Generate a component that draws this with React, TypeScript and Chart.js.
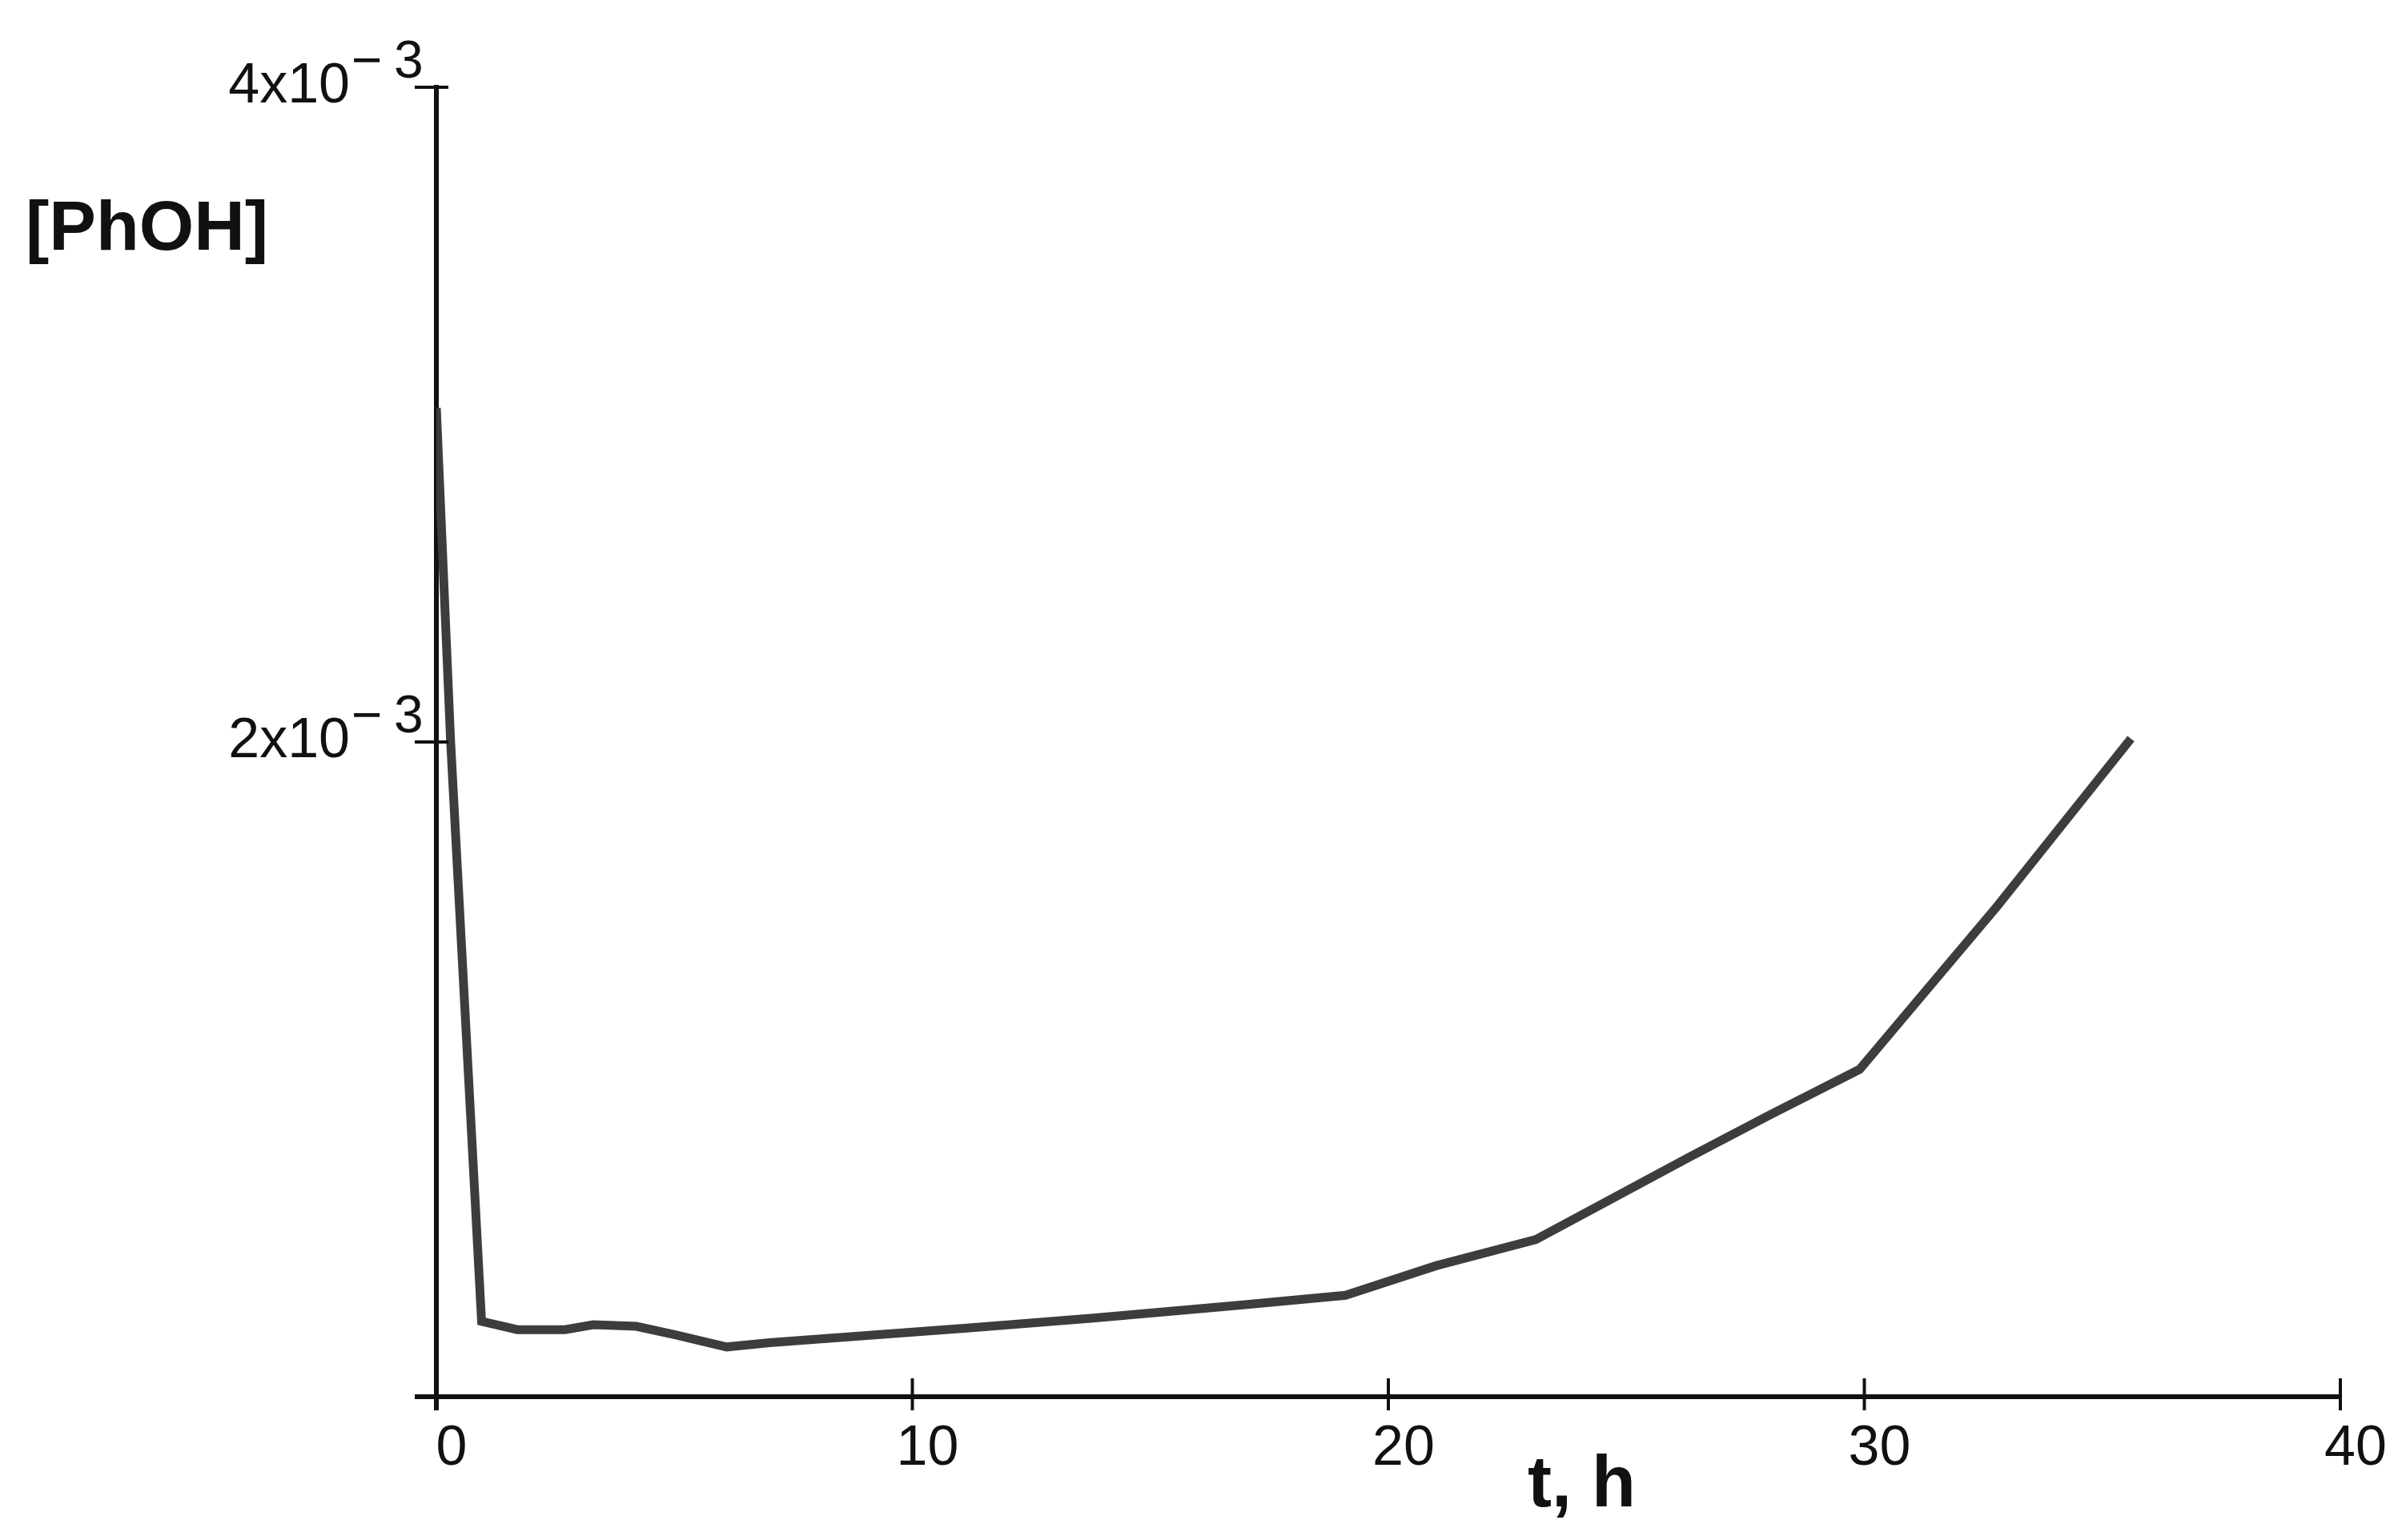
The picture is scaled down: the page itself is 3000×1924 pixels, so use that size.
import React, { useEffect, useRef } from "react";
import { Chart, registerables } from "chart.js";

Chart.register(...registerables);

// ---- data ----
const timeHours = [0, 0.3, 0.95, 1.7, 2.7, 3.3, 4.2, 5.0, 6.1, 7.0, 11.2, 13.8, 16.9, 19.1, 21.0, 23.1, 26.3, 28.0, 29.9, 32.8, 35.6];
const phohConc = [
  3.02e-3, 2.0e-3, 0.23e-3, 0.205e-3, 0.205e-3, 0.22e-3, 0.215e-3, 0.19e-3, 0.152e-3, 0.165e-3,
  0.21e-3, 0.24e-3, 0.28e-3, 0.31e-3, 0.4e-3, 0.48e-3, 0.73e-3, 0.86e-3, 1.0e-3, 1.5e-3, 2.01e-3,
];
const xTicks = [0, 10, 20, 30, 40];
const yTicks = [0, 0.002, 0.004];
const yTickMantissa = ["", "2x10", "4x10"];
const yTickExponent = ["\u2212", "3"];
const xAxisTitle = "t, h";
const yAxisTitle = "[PhOH]";

const FONT = '"Liberation Sans", Arial, sans-serif';
const INK = "#111111";

const decorPlugin = {
  id: "decor",
  afterDraw(chart: any) {
    const ctx = chart.ctx as CanvasRenderingContext2D;
    const xs = chart.scales.x;
    const ys = chart.scales.y;
    const x0 = xs.getPixelForValue(0);
    const y0 = ys.getPixelForValue(0);
    ctx.save();
    ctx.strokeStyle = INK;
    ctx.lineCap = "butt";
    xTicks.forEach((v) => {
      const px = xs.getPixelForValue(v);
      ctx.lineWidth = v === 0 ? 6 : 4;
      ctx.beginPath();
      ctx.moveTo(px, y0 - 23);
      ctx.lineTo(px, y0 + 17);
      ctx.stroke();
    });
    yTicks.forEach((v) => {
      const py = ys.getPixelForValue(v);
      ctx.lineWidth = v === 0 ? 6 : 4;
      ctx.beginPath();
      ctx.moveTo(x0 - 27, py);
      ctx.lineTo(x0 + 15, py);
      ctx.stroke();
    });
    // superscript exponents of the y tick labels
    ctx.fillStyle = INK;
    ctx.font = `66px ${FONT}`;
    ctx.textAlign = "left";
    ctx.textBaseline = "alphabetic";
    yTicks.forEach((v, i) => {
      if (!yTickMantissa[i]) return;
      const py = ys.getPixelForValue(v);
      ctx.fillText(yTickExponent[0], x0 - 106, py - 12);
      ctx.fillText(yTickExponent[1], x0 - 53, py - 12);
    });
    // axis titles
    ctx.font = `bold 88px ${FONT}`;
    ctx.fillText(yAxisTitle, 32, 312);
    ctx.font = `bold 90px ${FONT}`;
    ctx.fillText(xAxisTitle, 1908, 1882);
    ctx.restore();
  },
};

export default function App() {
  const canvasRef = useRef<HTMLCanvasElement | null>(null);

  useEffect(() => {
    document.body.style.margin = "0";
    const canvas = canvasRef.current;
    if (!canvas) return;
    const chart = new Chart(canvas, {
      type: "line",
      data: {
        datasets: [
          {
            label: yAxisTitle,
            data: timeHours.map((t, i) => ({ x: t, y: phohConc[i] })),
            borderColor: "#3d3d3d",
            borderWidth: 11,
            pointRadius: 0,
            tension: 0,
            fill: false,
          },
        ],
      },
      options: {
        animation: false,
        responsive: false,
        devicePixelRatio: 1,
        layout: { padding: { left: 0, right: 77, top: 109, bottom: 0 } },
        plugins: {
          legend: { display: false },
          tooltip: { enabled: false },
        },
        scales: {
          x: {
            type: "linear",
            min: 0,
            max: 40,
            afterFit: (s: any) => {
              s.height = 179;
            },
            afterBuildTicks: (s: any) => {
              s.ticks = xTicks.map((v) => ({ value: v }));
            },
            grid: { display: false, drawTicks: false },
            border: { display: true, color: INK, width: 6 },
            ticks: {
              color: INK,
              font: { family: FONT, size: 70 },
              padding: 24,
              labelOffset: 19,
              maxRotation: 0,
              autoSkip: false,
              callback: (v: any) => String(v),
            },
          },
          y: {
            type: "linear",
            min: 0,
            max: 0.004,
            afterFit: (s: any) => {
              s.width = 545;
            },
            afterBuildTicks: (s: any) => {
              s.ticks = yTicks.map((v) => ({ value: v }));
            },
            grid: { display: false, drawTicks: true, tickLength: 108 },
            border: { display: true, color: INK, width: 6 },
            ticks: {
              color: INK,
              font: { family: FONT, size: 70 },
              padding: 0,
              autoSkip: false,
              callback: (v: any) => {
                const i = yTicks.findIndex((t) => Math.abs(t - v) < 1e-9);
                return i >= 0 ? yTickMantissa[i] : "";
              },
            },
          },
        },
      },
      plugins: [decorPlugin],
    });
    return () => chart.destroy();
  }, []);

  return (
    <div style={{ width: 3000, height: 1924, background: "#ffffff" }}>
      <canvas ref={canvasRef} width={3000} height={1924} style={{ display: "block", width: 3000, height: 1924 }} />
    </div>
  );
}
